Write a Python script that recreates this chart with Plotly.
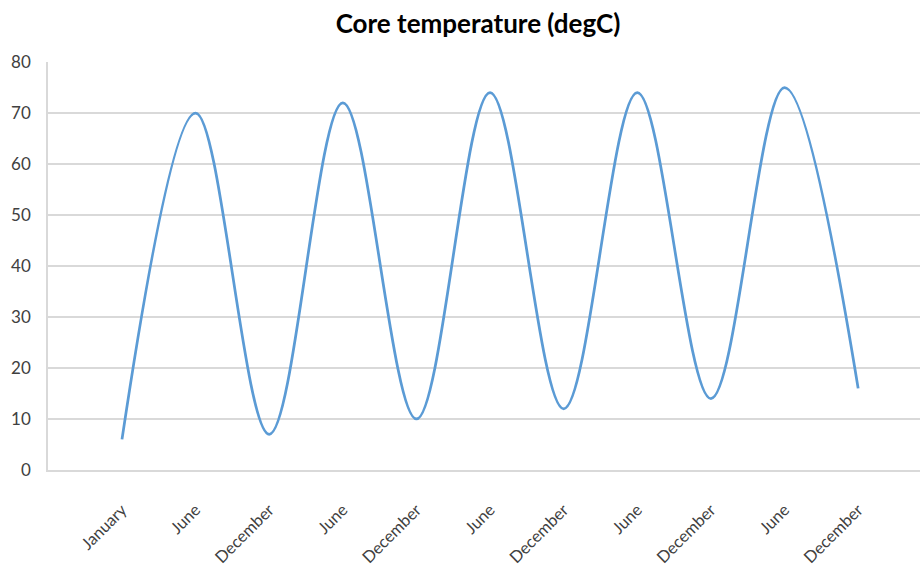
import plotly.graph_objects as go

categories = ["January", "June", "December", "June", "December", "June",
              "December", "June", "December", "June", "December"]
temperature = [6, 70, 7, 72, 10, 74, 12, 74, 14, 75, 16]
y_ticks = [0, 10, 20, 30, 40, 50, 60, 70, 80]

x_idx = list(range(len(categories)))

fig = go.Figure()
fig.add_trace(go.Scatter(
    x=x_idx, y=temperature, mode="lines",
    line=dict(color="#5b9bd5", width=2.75, shape="spline", smoothing=1.0),
    hoverinfo="skip", showlegend=False,
))

fig.update_layout(
    width=920, height=566,
    margin=dict(l=48, r=0, t=62, b=96),
    paper_bgcolor="white", plot_bgcolor="white",
    font=dict(family="Lato, Open Sans, sans-serif", color="#404040"),
    title=dict(text="<b>Core temperature (degC)</b>", x=478/920, xanchor="center",
               y=1 - 24/566, yanchor="middle",
               font=dict(size=26, color="#000000", family="Lato, Open Sans, sans-serif")),
    xaxis=dict(range=[-1.005, 10.84], tickmode="array", tickvals=x_idx,
               ticktext=categories, tickangle=-45, showgrid=False, zeroline=False,
               showline=True, linecolor="#d9d9d9", linewidth=1.5,
               ticks="", ticklabelstandoff=22,
               tickfont=dict(size=16.5, color="#404040")),
    yaxis=dict(range=[0, 80], tickmode="array", tickvals=y_ticks,
               showgrid=True, gridcolor="#d9d9d9", gridwidth=1.5, zeroline=False,
               showline=True, linecolor="#d9d9d9", linewidth=1.5, ticks="",
               ticklabelstandoff=12,
               tickfont=dict(size=17, color="#404040")),
)

fig.write_html("out.html")
